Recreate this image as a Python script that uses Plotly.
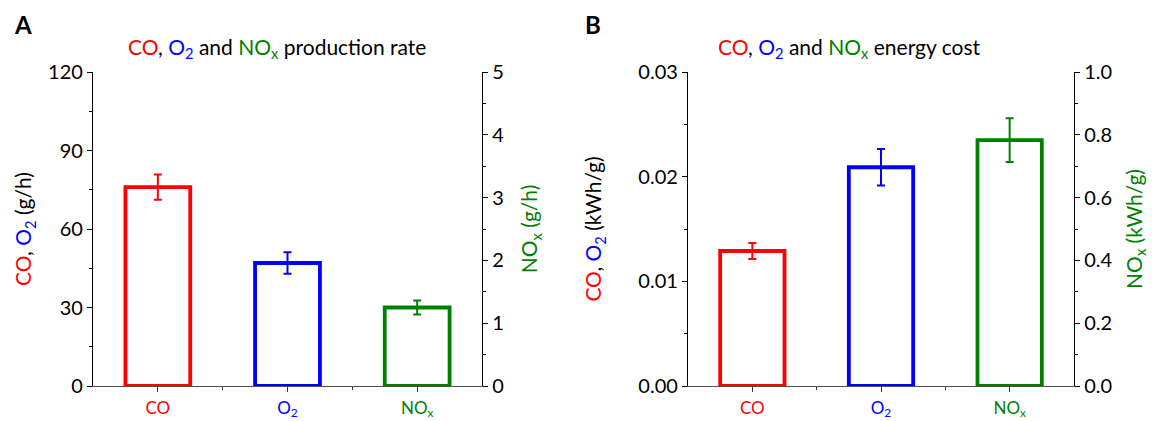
import plotly.graph_objects as go

# ---------------- data ----------------
categories = ["CO", "O2", "NOx"]
tick_labels = ["CO", "O<sub>2</sub>", "NO<sub>x</sub>"]
rate = [76.0, 47.0, 1.25]          # CO, O2 in g/h (left axis); NOx in g/h (right axis)
rate_err = [4.8, 4.1, 0.11]
cost = [0.0129, 0.0209, 0.783]     # CO, O2 in kWh/g (left axis); NOx in kWh/g (right axis)
cost_err = [0.00077, 0.00175, 0.070]

colors = ["#FF0000", "#0000FF", "#008000"]
FONT = "Lato"
positions = list(range(len(categories)))

fig = go.Figure()

def add_panel(values, errs, xa, ya_left, ya_right):
    for i, cat in enumerate(categories):
        fig.add_trace(go.Bar(
            x=[positions[i]], y=[values[i]], name=cat, width=0.5,
            marker=dict(color="white", line=dict(color=colors[i], width=3.8)),
            error_y=dict(type="data", array=[errs[i]], color=colors[i],
                         thickness=2, width=4),
            xaxis=xa, yaxis=ya_left if i < 2 else ya_right,
            showlegend=False,
        ))

add_panel(rate, rate_err, "x", "y", "y2")
add_panel(cost, cost_err, "x2", "y3", "y4")

dA = [93 / 1152, 482 / 1152]
dB = [688 / 1152, 1074 / 1152]
dy = [1 - 386 / 421, 1 - 72 / 421]

colored_ticks = [f'<span style="color:{c}">{t}</span>' for c, t in zip(colors, tick_labels)]

tickfont = dict(family=FONT, size=20, color="black")

def bottom_axis(domain, anchor):
    return dict(domain=domain, anchor=anchor, range=[-0.5, 2.5], showgrid=False, zeroline=False,
                automargin=False,
                tickvals=positions, ticktext=colored_ticks, ticks="outside", ticklen=5,
                tickwidth=1.2, tickcolor="#333", showline=True, linecolor="#505050", linewidth=1.3,
                tickfont=dict(family=FONT, size=17), ticklabelstandoff=1,
                minor=dict(tickvals=[0.5, 1.5], ticks="outside", ticklen=3, tickcolor="#333"))

def top_axis(over, anchor):
    return dict(overlaying=over, anchor=anchor, side="top", range=[-0.5, 2.5], showgrid=False,
                zeroline=False, automargin=False, tickvals=positions, showticklabels=False,
                ticks="inside", ticklen=5, tickwidth=1.2, tickcolor="#333", showline=True,
                linecolor="#8a8a8a", linewidth=1.3,
                minor=dict(tickvals=[0.5, 1.5], ticks="inside", ticklen=3, tickcolor="#333"))

def y_axis(anchor, side, rng, dtick, minor, fmt, title, standoff, overlaying=None, domain=None):
    d = dict(anchor=anchor, side=side, range=rng, dtick=dtick, tick0=0, tickformat=fmt,
             automargin=False,
             showgrid=False, zeroline=False, ticks="outside", ticklen=5, tickwidth=1.2,
             tickcolor="black", showline=True, linecolor="black", linewidth=1.3,
             tickfont=tickfont,
             minor=dict(dtick=minor, tick0=0, ticks="outside", ticklen=3, tickcolor="black"),
             title=dict(text=title, font=dict(family=FONT, size=21, color="black"),
                        standoff=standoff))
    if overlaying:
        d["overlaying"] = overlaying
    if domain:
        d["domain"] = domain
    return d

r, b, g = colors
fig.update_layout(
    width=1152, height=421, margin=dict(l=0, r=0, t=0, b=0),
    paper_bgcolor="white", plot_bgcolor="white", barmode="overlay",
    font=dict(family=FONT, color="black"),
    xaxis=bottom_axis(dA, "y"),
    xaxis2=bottom_axis(dB, "y3"),
    xaxis3=top_axis("x", "y"),
    xaxis4=top_axis("x2", "y3"),
    yaxis=y_axis("x", "left", [0, 120], 30, 15, "d",
                 f'<span style="color:{r}">CO</span>, <span style="color:{b}">O<sub>2</sub></span> (g/h)',
                 10, domain=dy),
    yaxis2=y_axis("x", "right", [0, 5], 1, 0.5, "d",
                  f'<span style="color:{g}">NO<sub>x</sub> (g/h)</span>', 19, overlaying="y"),
    yaxis3=y_axis("x2", "left", [0, 0.03], 0.01, 0.005, ".2f",
                  f'<span style="color:{r}">CO</span>, <span style="color:{b}">O<sub>2</sub></span> (kWh/g)',
                  30, domain=dy),
    yaxis4=y_axis("x2", "right", [0, 1.0], 0.2, 0.1, ".1f",
                  f'<span style="color:{g}">NO<sub>x</sub> (kWh/g)</span>', 15, overlaying="y3"),
    annotations=[
        dict(text="<b>A</b>", x=12 / 1152, y=1 - 25 / 421, xref="paper", yref="paper",
             xanchor="left", yanchor="middle", showarrow=False,
             font=dict(family=FONT, size=24, color="black")),
        dict(text="<b>B</b>", x=583 / 1152, y=1 - 25 / 421, xref="paper", yref="paper",
             xanchor="left", yanchor="middle", showarrow=False,
             font=dict(family=FONT, size=24, color="black")),
        dict(text=f'<span style="color:{r}">CO</span>, <span style="color:{b}">O<sub>2</sub></span> and '
                  f'<span style="color:{g}">NO<sub>x</sub></span> production rate',
             x=277 / 1152, y=1 - 48 / 421, xref="paper", yref="paper", xanchor="center",
             yanchor="middle", showarrow=False, font=dict(family=FONT, size=21, color="black")),
        dict(text=f'<span style="color:{r}">CO</span>, <span style="color:{b}">O<sub>2</sub></span> and '
                  f'<span style="color:{g}">NO<sub>x</sub></span> energy cost',
             x=849 / 1152, y=1 - 48 / 421, xref="paper", yref="paper", xanchor="center",
             yanchor="middle", showarrow=False, font=dict(family=FONT, size=21, color="black")),
    ],
)

fig.write_html("out.html", config={"displayModeBar": False},
               post_script="document.body.style.margin='0';document.body.style.overflow='hidden';")
